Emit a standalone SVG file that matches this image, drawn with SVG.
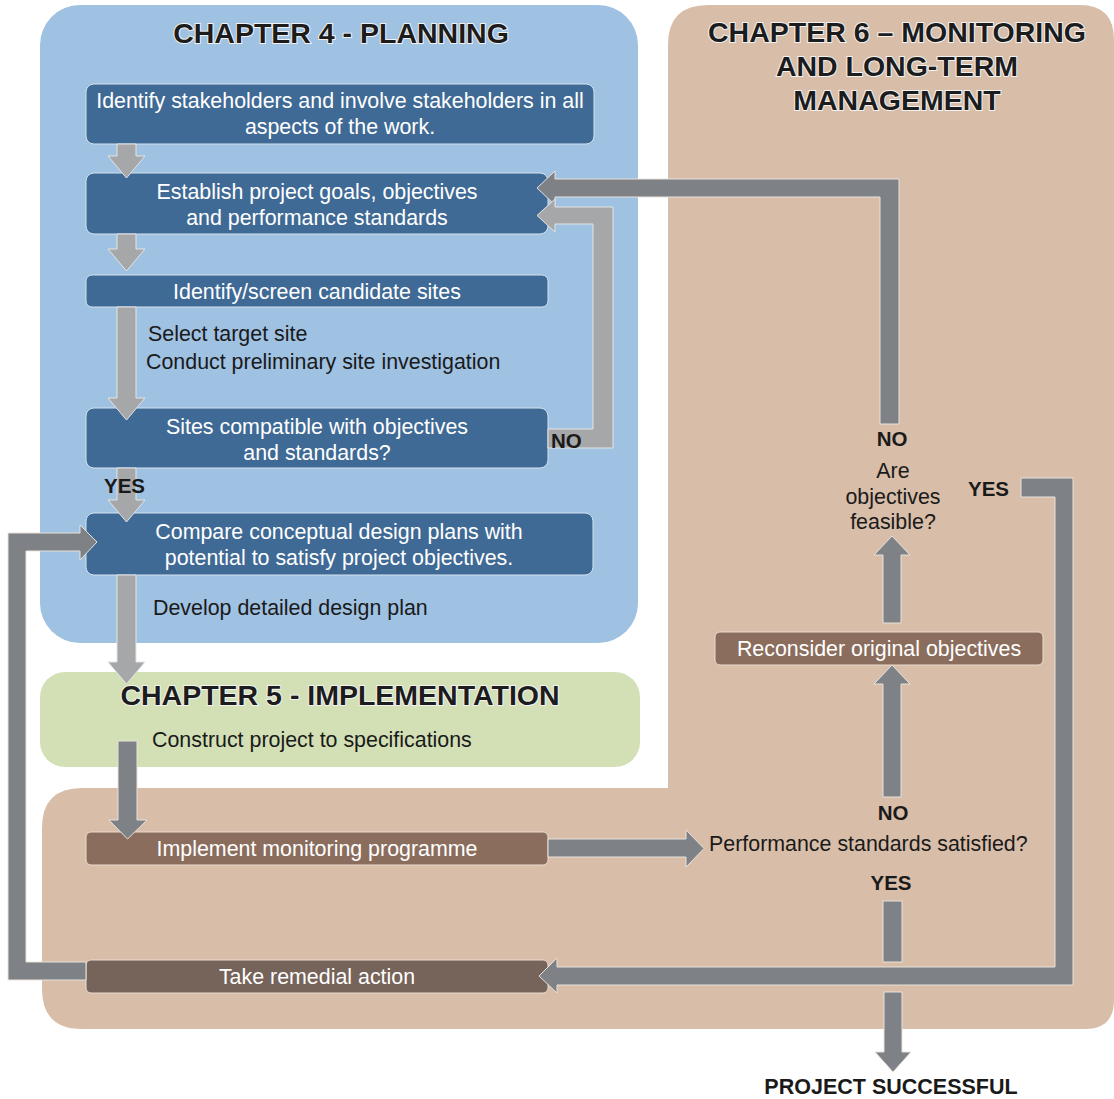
<svg xmlns="http://www.w3.org/2000/svg" width="1114" height="1099" viewBox="0 0 1114 1099">
<style>
.title{font-family:"Liberation Sans",Arial,sans-serif;font-weight:bold;font-size:28.5px;fill:#1c1c1c;stroke:#f2f2f2;stroke-width:2;paint-order:stroke;text-anchor:middle}
.bt{font-family:"Liberation Sans",Arial,sans-serif;font-size:21.4px;fill:#ffffff;text-anchor:middle}
.pt{font-family:"Liberation Sans",Arial,sans-serif;font-size:21.4px;fill:#1a1a1a}
.lbl{font-family:"Liberation Sans",Arial,sans-serif;font-weight:bold;font-size:20.5px;fill:#1a1a1a}
.blue{fill:#3f6a95;stroke:#d4e2ef;stroke-width:1}
.brown{fill:#8b6d5d;stroke:#eadbd0;stroke-width:1}
.dbrown{fill:#766359;stroke:#eadbd0;stroke-width:1}
.la{fill:#a6a7a9;stroke:#e4e4e4;stroke-width:1}
.da{fill:#7e8185;stroke:#e8e2dc;stroke-width:1}
</style>
<rect width="1114" height="1099" fill="#ffffff"/>
<g id="panels">
<rect id="ch4-panel" x="40" y="5" width="598" height="638" rx="40" fill="#9fc1e2"/>
<rect id="ch5-panel" x="40" y="672" width="600" height="95" rx="25" fill="#d3e0b5"/>
<path id="ch6-panel" d="M708,5 H1080 Q1114,5 1114,40 V1000 Q1114,1029 1085,1029 H82 Q42,1029 42,989 V828 Q42,788 82,788 H668 V45 Q668,5 708,5 Z" fill="#d8bea9"/>
<text class="title" x="341" y="43">CHAPTER 4 - PLANNING</text>
<text class="title" x="340" y="705">CHAPTER 5 - IMPLEMENTATION</text>
<text class="title" x="897" y="42">CHAPTER 6 – MONITORING</text>
<text class="title" x="897" y="76">AND LONG-TERM</text>
<text class="title" x="897" y="110">MANAGEMENT</text>
</g>
<g id="nodes">
<g id="n-stakeholders"><rect class="blue" x="86" y="84" width="508" height="60" rx="8"/><text class="bt" x="340" y="108">Identify stakeholders and involve stakeholders in all</text><text class="bt" x="340" y="134">aspects of the work.</text></g>
<g id="n-goals"><rect class="blue" x="86" y="173" width="462" height="61" rx="8"/><text class="bt" x="317" y="199">Establish project goals, objectives</text><text class="bt" x="317" y="225">and performance standards</text></g>
<g id="n-screen"><rect class="blue" x="86" y="275" width="462" height="32" rx="6"/><text class="bt" x="317" y="299">Identify/screen candidate sites</text></g>
<g id="n-select"><text class="pt" x="148" y="341">Select target site</text><text class="pt" x="146" y="369">Conduct preliminary site investigation</text></g>
<g id="n-compatible"><rect class="blue" x="86" y="408" width="462" height="60" rx="8"/><text class="bt" x="317" y="434">Sites compatible with objectives</text><text class="bt" x="317" y="460">and standards?</text></g>
<g id="n-compare"><rect class="blue" x="86" y="513" width="507" height="62" rx="8"/><text class="bt" x="339" y="539">Compare conceptual design plans with</text><text class="bt" x="339" y="565">potential to satisfy project objectives.</text></g>
<g id="n-develop"><text class="pt" x="153" y="615">Develop detailed design plan</text></g>
<g id="n-construct"><text class="pt" x="152" y="747">Construct project to specifications</text></g>
<g id="n-monitor"><rect class="brown" x="86" y="832" width="462" height="33" rx="5"/><text class="bt" x="317" y="856">Implement monitoring programme</text></g>
<g id="n-performance"><text class="pt" x="709" y="851">Performance standards satisfied?</text></g>
<g id="n-reconsider"><rect class="brown" x="715" y="632" width="328" height="33" rx="5"/><text class="bt" x="879" y="656">Reconsider original objectives</text></g>
<g id="n-feasible"><text class="pt" x="893" y="478" text-anchor="middle">Are</text><text class="pt" x="893" y="504" text-anchor="middle">objectives</text><text class="pt" x="893" y="529" text-anchor="middle">feasible?</text></g>
<g id="n-remedial"><rect class="dbrown" x="86" y="960" width="462" height="33" rx="5"/><text class="bt" x="317" y="984">Take remedial action</text></g>
<g id="n-success"><text class="lbl" x="891" y="1094" text-anchor="middle" style="font-size:21.5px">PROJECT SUCCESSFUL</text></g>
</g>
<g id="connectors">
<polygon class="la" points="117,144 136,144 136,156 145,156 126.5,178 108,156 117,156"/>
<polygon class="la" points="117,234 136,234 136,249 145,249 126.5,271 108,249 117,249"/>
<polygon class="la" points="117,307 136,307 136,398 145,398 126.5,420 108,398 117,398"/>
<polygon class="la" points="117,468 136,468 136,500 145,500 126.5,522 108,500 117,500"/>
<polygon class="la" points="117,575 136,575 136,662 145,662 126.5,684 108,662 117,662"/>
<polygon class="da" points="880,424 899,424 899,179 555,179 555,171 537,188 555,205 555,197 880,197"/>
<polygon class="la" points="548,448 613,448 613,207 555,207 555,199 537,215.5 555,232 555,224 593,224 593,429 548,429"/>
<polygon class="da" points="118,741 137,741 137,820 147,820 127.5,839 109,820 118,820"/>
<polygon class="da" points="548,839 686,839 686,830 704,848.5 686,867 686,857 548,857"/>
<polygon class="da" points="883,797 901,797 901,684 910,684 892,665 874,684 883,684"/>
<polygon class="da" points="883,623 901,623 901,555 910,555 892,536 874,555 883,555"/>
<polygon class="da" points="1021,478 1073,478 1073,985 557,985 557,993 539,976 557,958 557,967 1055,967 1055,497 1021,497"/>
<rect class="da" x="883" y="901" width="19" height="61"/>
<polygon class="da" points="884,992 902,992 902,1052 911,1052 893,1072 875,1052 884,1052"/>
<polygon class="da" points="86,980 8,980 8,533 80,533 80,525 97,542 80,560 80,551 26,551 26,962 86,962"/>
<text class="lbl" x="551" y="448">NO</text>
<text class="lbl" x="104" y="493">YES</text>
<text class="lbl" x="892" y="446" text-anchor="middle">NO</text>
<text class="lbl" x="968" y="496">YES</text>
<text class="lbl" x="893" y="820" text-anchor="middle">NO</text>
<text class="lbl" x="891" y="890" text-anchor="middle">YES</text>
</g>
</svg>
